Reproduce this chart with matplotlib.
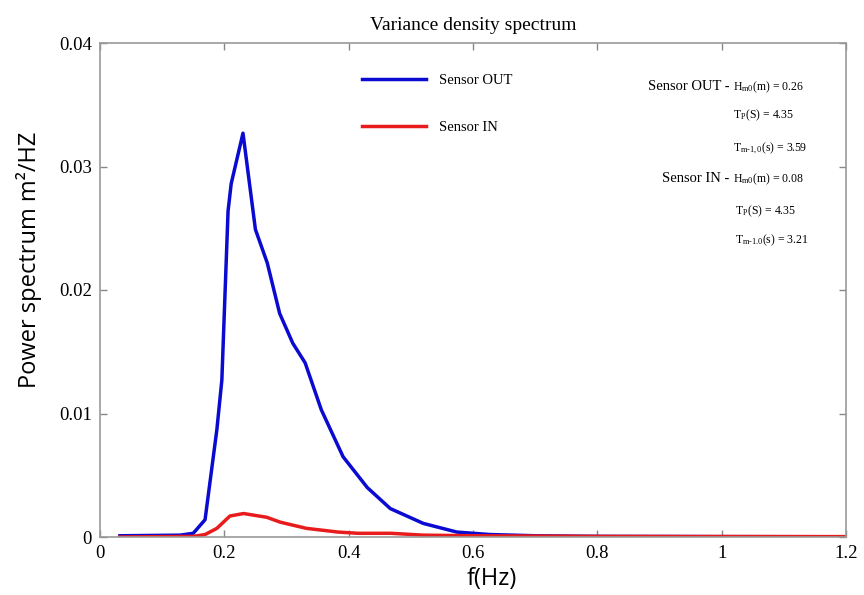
import matplotlib
matplotlib.use("Agg")
import matplotlib.pyplot as plt

plt.rcParams['mathtext.fontset'] = 'custom'
plt.rcParams['mathtext.rm'] = 'Liberation Serif'
plt.rcParams['mathtext.it'] = 'Liberation Serif:italic'

# Data
freq_out = [0.032, 0.129, 0.150, 0.169, 0.188, 0.196, 0.206, 0.211, 0.230, 0.250,
            0.269, 0.289, 0.310, 0.330, 0.356, 0.391, 0.430, 0.467, 0.520, 0.574,
            0.627, 0.70, 0.80, 1.0, 1.2]
psd_out = [0.0001, 0.00015, 0.0003, 0.0014, 0.0087, 0.0127, 0.0264, 0.0286, 0.0327, 0.0249,
           0.0222, 0.0181, 0.0157, 0.0141, 0.0103, 0.0065, 0.0040, 0.0023, 0.0011, 0.0004,
           0.0002, 0.0001, 0.00005, 0.00003, 0.00002]

freq_in = [0.032, 0.150, 0.169, 0.188, 0.209, 0.231, 0.268, 0.290, 0.332, 0.383,
           0.415, 0.445, 0.468, 0.520, 0.60, 0.80, 1.0, 1.2]
psd_in = [0.0, 0.00005, 0.0002, 0.0007, 0.0017, 0.0019, 0.0016, 0.0012, 0.0007, 0.0004,
          0.0003, 0.0003, 0.0003, 0.00015, 0.0001, 0.00005, 0.00004, 0.00003]

x_ticks = [0, 0.2, 0.4, 0.6, 0.8, 1.0, 1.2]
x_ticklabels = ['0', '0.2', '0.4', '0.6', '0.8', '1', '1.2']
y_ticks = [0, 0.01, 0.02, 0.03, 0.04]
y_ticklabels = ['0', '0.01', '0.02', '0.03', '0.04']

W, H = 864, 595
fig = plt.figure(figsize=(W / 100, H / 100), dpi=100)
ax = fig.add_axes([100 / W, 1 - 537 / H, 746 / W, 494 / H])

ax.plot(freq_out, psd_out, color='#0a0ad0', lw=2.5, label='Sensor OUT', solid_joinstyle='round')
ax.plot(freq_in, psd_in, color='#e81c1c', lw=2.5, label='Sensor IN', solid_joinstyle='round')

ax.set_xlim(0, 1.2)
ax.set_ylim(0, 0.04)
ax.set_xticks(x_ticks)
ax.set_xticklabels(x_ticklabels)
ax.set_yticks(y_ticks)
ax.set_yticklabels(y_ticklabels)
ax.tick_params(direction='in', top=True, right=True, length=5, width=1, color='#888888',
               labelsize=13.5, pad=6)
for lab in ax.get_xticklabels() + ax.get_yticklabels():
    lab.set_fontfamily('Liberation Serif')
for s in ax.spines.values():
    s.set_color('#999999')
    s.set_linewidth(1.2)

ax.set_title('Variance density spectrum', fontfamily='Liberation Serif', fontsize=14, pad=9)
ax.set_xlabel('f(Hz)', fontfamily='Open Sans', fontsize=17)
ax.xaxis.set_label_coords(0.525, -0.060)
ax.set_ylabel('Power spectrum m²/HZ', fontfamily='Open Sans', fontsize=17)
ax.yaxis.set_label_coords(-0.078, 0.561)

leg = ax.legend(loc='upper left', bbox_to_anchor=(362 / W, 1 - 74 / H),
                bbox_transform=fig.transFigure, frameon=False, borderpad=0, borderaxespad=0,
                handlelength=4.4, handletextpad=0.9, labelspacing=2.3,
                prop={'family': 'Liberation Serif', 'size': 10.5})

# Annotation block
lab_kw = dict(fontfamily='Liberation Serif', fontsize=10.5, va='center')
val_kw = dict(fontfamily='Liberation Serif', fontsize=8.5, va='center')
fig.text(729 / W, 1 - 87 / H, 'Sensor OUT -', ha='right', **lab_kw)
fig.text(733 / W, 1 - 87 / H, r'H$_{\mathrm{m0}}$(m) = 0.26', ha='left', **val_kw)
fig.text(733 / W, 1 - 115 / H, r'T$_{\mathrm{P}}$(S) = 4.35', ha='left', **val_kw)
fig.text(733 / W, 1 - 148 / H, r'T$_{\mathrm{m\text{-}1,0}}$(s) = 3.59', ha='left', **val_kw)
fig.text(729 / W, 1 - 179 / H, 'Sensor IN -', ha='right', **lab_kw)
fig.text(733 / W, 1 - 179 / H, r'H$_{\mathrm{m0}}$(m) = 0.08', ha='left', **val_kw)
fig.text(735 / W, 1 - 211 / H, r'T$_{\mathrm{P}}$(S) = 4.35', ha='left', **val_kw)
fig.text(735 / W, 1 - 240 / H, r'T$_{\mathrm{m\text{-}1.0}}$(s) = 3.21', ha='left', **val_kw)

fig.savefig('out.png', dpi=100)
